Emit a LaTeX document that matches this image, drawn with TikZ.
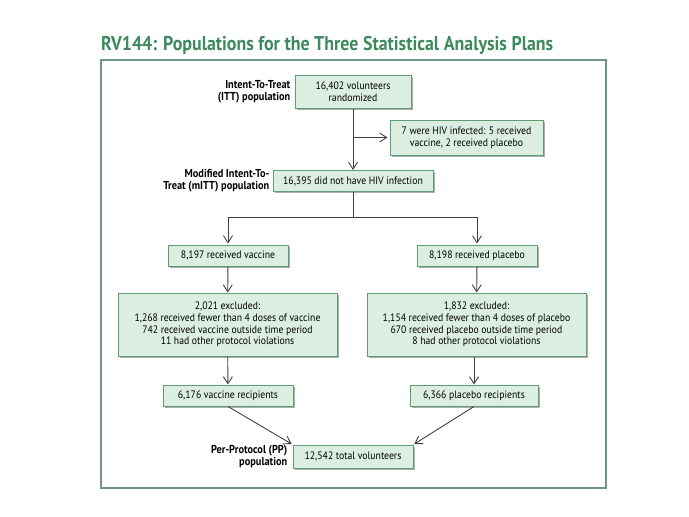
\documentclass[tikz,border=0pt]{standalone}
\usepackage{fontspec}
\setmainfont{PT Sans}[FakeStretch=0.9]
\usepackage{xcolor}
\usepackage{tikz}
\usetikzlibrary{arrows.meta,positioning,shadows}
\definecolor{cTitle}{HTML}{3E8A5E}
\definecolor{cFrame}{HTML}{6F9683}
\definecolor{cBoxFill}{HTML}{DCEEE1}
\definecolor{cBoxDraw}{HTML}{5E9C74}
\definecolor{cLine}{HTML}{404040}
\tikzset{
  box/.style  ={draw=cBoxDraw, fill=cBoxFill, line width=1pt, align=center, font=\fontsize{10.8}{11.7}\selectfont,
                inner xsep=6pt, inner ysep=3pt, minimum height=21pt,
                drop shadow={shadow xshift=1.5pt, shadow yshift=-1.5pt, fill=black!45, opacity=0.7}},
  lbl/.style  ={align=right, font=\fontsize{11.5}{12}\selectfont\bfseries, inner sep=0pt},
  arrow/.style={-{Straight Barb[length=7pt,width=9pt]}, line width=0.9pt, draw=cLine},
  line/.style ={line width=0.9pt, draw=cLine},
  frame/.style={draw=cFrame, line width=1.5pt},
}
\begin{document}
\begin{tikzpicture}[x=1pt, y=-1pt]
  \useasboundingbox (0,0) rectangle (689,517);
  \node[anchor=base west, text=cTitle, inner sep=0pt, font=\fontsize{19.9}{20}\selectfont\bfseries] (title) at (101,50)
    {RV144: Populations for the Three Statistical Analysis Plans};
  \draw[frame] (101,60) rectangle (606,488);

  \node[box, minimum width=116pt, minimum height=33pt] (itt) at (353,92) {16,402 volunteers\\randomized};
  \node[box, minimum width=153pt, minimum height=35pt] (hiv) at (466.5,137.5) {7 were HIV infected: 5 received\\vaccine, 2 received placebo};
  \node[box, minimum width=160pt] (mitt) at (353,181) {16,395 did not have HIV infection};
  \node[box, minimum width=120pt] (vac) at (228,255.5) {8,197 received vaccine};
  \node[box, minimum width=120pt] (pla) at (477,255.5) {8,198 received placebo};
  \node[box, minimum width=219pt, minimum height=63pt] (vex) at (227.5,324.5)
    {2,021 excluded:\\1,268 received fewer than 4 doses of vaccine\\742 received vaccine outside time period\\11 had other protocol violations};
  \node[box, minimum width=219pt, minimum height=63pt] (pex) at (476.5,324.5)
    {1,832 excluded:\\1,154 received fewer than 4 doses of placebo\\670 received placebo outside time period\\8 had other protocol violations};
  \node[box, minimum width=130pt] (vrec) at (228,395.5) {6,176 vaccine recipients};
  \node[box, minimum width=128pt] (prec) at (474,395.5) {6,366 placebo recipients};
  \node[box, minimum width=120pt, minimum height=23pt] (tot) at (353,456.5) {12,542 total volunteers};

  \node[lbl, left=4pt of itt]  {Intent-To-Treat\\(ITT) population};
  \node[lbl, left=3pt of mitt] {Modified Intent-To-\\Treat (mITT) population};
  \node[lbl, left=5pt of tot]  {Per-Protocol (PP)\\population};

  \coordinate (br) at (353,217);
  \draw[arrow] (itt) -- (mitt);
  \draw[arrow, shorten >=2pt] (itt.south |- hiv.west) -- (hiv.west);
  \draw[line] (mitt) -- (br);
  \draw[arrow, shorten >=1pt] (br) -| (vac.north);
  \draw[arrow, shorten >=1pt] (br) -| (pla.north);
  \draw[arrow] (vac) -- (vex);
  \draw[arrow] (pla) -- (pex);
  \draw[arrow] (vex) -- (vrec);
  \draw[arrow] (pex.south -| prec.south) -- (prec);
  \draw[arrow, shorten >=1pt] (vrec.south) -- (tot.north west);
  \draw[arrow, shorten >=1pt] (prec.south) -- (tot.north east);
\end{tikzpicture}
\end{document}
